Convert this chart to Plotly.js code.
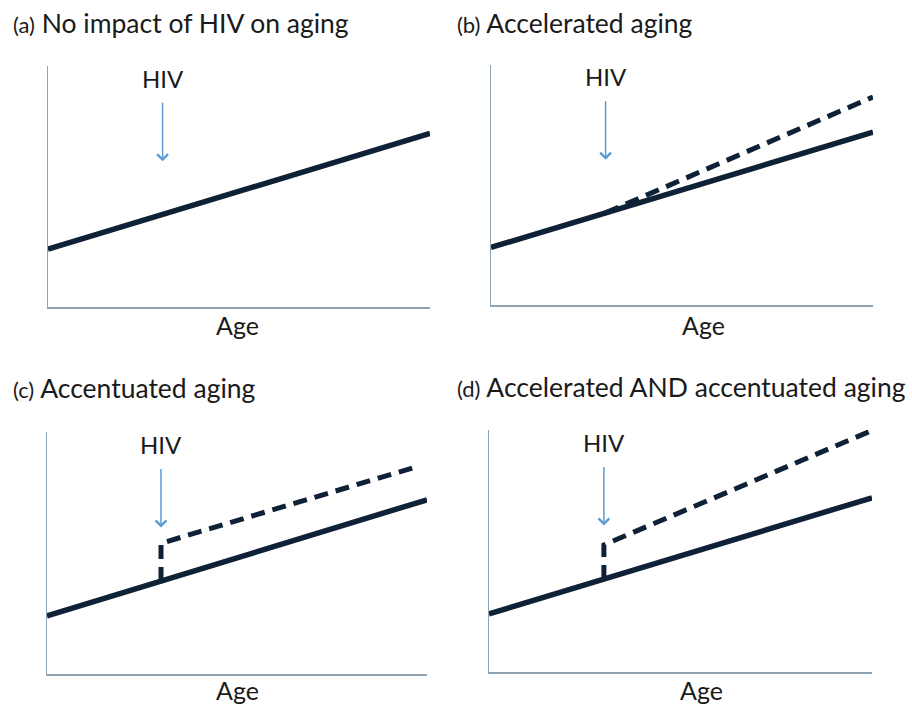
<!DOCTYPE html>
<html>
<head>
<meta charset="utf-8">
<script src="https://cdn.plot.ly/plotly-3.0.1.min.js"></script>
<style>html,body{margin:0;padding:0;background:#fff;}#chart{width:912px;height:704px;}</style>
</head>
<body>
<div id="chart"></div>
<script>
// ---- data (schematic units) ----
const panelLabels = ["(a)", "(b)", "(c)", "(d)"];
const panelTitles = ["No impact of HIV on aging", "Accelerated aging", "Accentuated aging", "Accelerated AND accentuated aging"];
const age = [0, 10];
const normalAging = [2.4, 7.2];
const hivOnsetAge = 3;
const hivArrowTip = 6.05;
const hivLabelY = 9.5;
const accelAge = [3, 10];
const accelVal = [3.84, 8.67];
const accentAge = [3, 3, 9.8];
const accentVal = [3.84, 5.4, 8.6];
const bothAge = [3, 3, 9.95];
const bothVal = [3.84, 5.25, 9.95];
const xLabel = "Age";
const eventLabel = "HIV";

const W = 912, H = 704;
const navy = "#0f2136";
const axisCol = "#8fa3b3";
const arrowCol = "#5b9bd5";
const FONT = "Lato, 'Open Sans', sans-serif";

// panel pixel boxes [x0, x1, yTop, yBottom]
const boxes = [
  [48, 430, 66, 307],
  [491, 873, 65, 305],
  [47, 427, 432, 674],
  [489, 872, 430, 672]
];
const titlePos = [[11, 23], [455, 23], [11, 388], [455, 387]];
const agePos = [[238, 325], [703, 325], [237, 690], [701, 690]];

const layout = {
  width: W, height: H,
  margin: {l: 0, r: 0, t: 0, b: 0},
  paper_bgcolor: "#ffffff",
  plot_bgcolor: "rgba(0,0,0,0)",
  showlegend: false,
  annotations: [],
  font: {family: FONT, color: "#1a1a1a"}
};

const traces = [];
boxes.forEach((b, i) => {
  const n = i + 1;
  const xa = "xaxis" + (n === 1 ? "" : n);
  const ya = "yaxis" + (n === 1 ? "" : n);
  const xr = "x" + (n === 1 ? "" : n);
  const yr = "y" + (n === 1 ? "" : n);
  layout[xa] = {
    domain: [b[0] / W, b[1] / W], range: [0, 10], anchor: yr,
    showgrid: false, zeroline: false, showticklabels: false, ticks: "",
    showline: true, linecolor: axisCol, linewidth: 1.5, fixedrange: true
  };
  layout[ya] = {
    domain: [1 - b[3] / H, 1 - b[2] / H], range: [0, 10], anchor: xr,
    showgrid: false, zeroline: false, showticklabels: false, ticks: "",
    showline: true, linecolor: axisCol, linewidth: 1.5, fixedrange: true
  };
  // baseline aging
  traces.push({x: age, y: normalAging, xaxis: xr, yaxis: yr, mode: "lines",
    line: {color: navy, width: 5.5}, hoverinfo: "skip"});
  // HIV arrow
  layout.annotations.push({xref: xr, yref: yr, x: hivOnsetAge, y: hivArrowTip,
    ax: 0, ay: -60, text: "", showarrow: true, arrowhead: 4, arrowsize: 1.4,
    arrowwidth: 1.5, arrowcolor: arrowCol});
  layout.annotations.push({xref: xr, yref: yr, x: hivOnsetAge, y: hivLabelY,
    text: eventLabel, showarrow: false, font: {size: 24, family: FONT, color: "#1a1a1a"},
    xanchor: "center", yanchor: "middle"});
  // title
  layout.annotations.push({xref: "paper", yref: "paper",
    x: titlePos[i][0] / W, y: 1 - titlePos[i][1] / H, xanchor: "left", yanchor: "middle",
    text: '<span style="font-size:22px">' + panelLabels[i] + '</span> ' + panelTitles[i],
    showarrow: false, font: {size: 26.5, family: FONT, color: "#1a1a1a"}});
  // x label
  layout.annotations.push({xref: "paper", yref: "paper",
    x: agePos[i][0] / W, y: 1 - agePos[i][1] / H, xanchor: "center", yanchor: "middle",
    text: xLabel, showarrow: false, font: {size: 25, family: FONT, color: "#1a1a1a"}});
});

const dashStyle = {color: navy, width: 5, dash: "14px,8px"};
traces.push({x: accelAge, y: accelVal, xaxis: "x2", yaxis: "y2", mode: "lines", line: dashStyle, hoverinfo: "skip"});
traces.push({x: accentAge, y: accentVal, xaxis: "x3", yaxis: "y3", mode: "lines", line: dashStyle, hoverinfo: "skip"});
traces.push({x: bothAge, y: bothVal, xaxis: "x4", yaxis: "y4", mode: "lines", line: dashStyle, hoverinfo: "skip"});

Plotly.newPlot("chart", traces, layout, {displayModeBar: false, staticPlot: true});
</script>
</body>
</html>
